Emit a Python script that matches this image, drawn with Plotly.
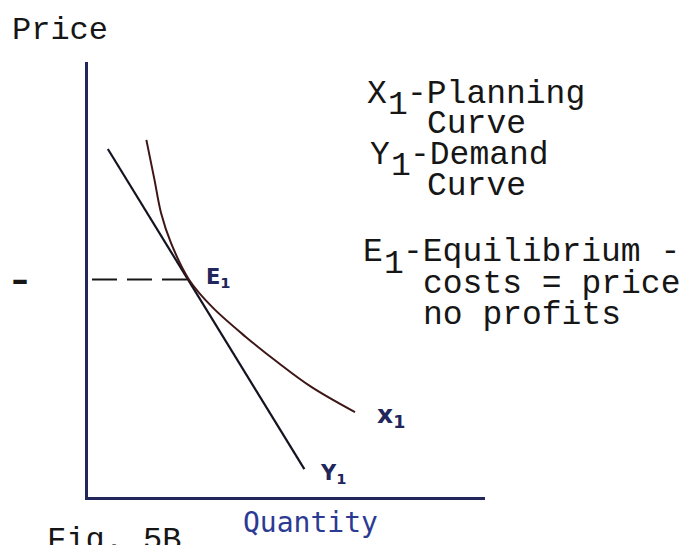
import plotly.graph_objects as go

# ---- data (quantity / price units) ----
demand_q = [0.5, 5.45]
demand_p = [8.0, 0.64]

planning_q = [1.47, 1.675, 1.84, 2.09, 2.55, 3.125, 3.975, 4.8, 5.625, 6.725]
planning_p = [8.21, 7.29, 6.53, 5.84, 4.99, 4.37, 3.68, 3.08, 2.53, 1.95]

eq_q = 2.55
eq_p = 5.0
guide_start_q = 0.1

W, H = 686, 545
ML, MR, MT, MB = 88, 201, 62, 48

def px(x, y):
    """pixel position -> paper coords (layout placement only)"""
    return (x - ML) / (W - ML - MR), (H - MB - y) / (H - MT - MB)

TYPE = "Liberation Mono"
HAND = "DejaVu Sans"
INK = "#161616"
NAVY = "#22265a"

fig = go.Figure()

fig.add_trace(go.Scatter(x=demand_q, y=demand_p, mode="lines",
                         line=dict(color="#141420", width=2.2), hoverinfo="skip"))
fig.add_trace(go.Scatter(x=planning_q, y=planning_p, mode="lines",
                         line=dict(color="#3e1616", width=2.0, shape="spline", smoothing=1.0),
                         hoverinfo="skip"))
fig.add_trace(go.Scatter(x=[guide_start_q, eq_q], y=[eq_p, eq_p], mode="lines",
                         line=dict(color="#161616", width=2.2, dash="25px,10px"),
                         hoverinfo="skip"))

annos = []

def text(x, y, s, size=33, family=TYPE, color=INK, xanchor="left", weight="normal"):
    px_, py_ = px(x, y)
    annos.append(dict(x=px_, y=py_, xref="paper", yref="paper", text=s, showarrow=False,
                      xanchor=xanchor, yanchor="middle", borderpad=0,
                      font=dict(family=family, size=size, color=color, weight=weight)))

NB = "\u00a0"
text(11, 30, "Price", size=32)
# legend block (typewritten)
text(366, 94, "X")
text(387, 105, "1")
text(406, 94, "-Planning")
text(426, 124, "Curve")
text(369, 155, "Y")
text(390, 166, "1")
text(409, 155, "-Demand")
text(426, 186, "Curve")
text(362, 253, "E")
text(383, 264, "1")
text(402, 253, "-Equilibrium -")
text(422, 284, "costs = price")
text(422, 315, "no profits")
text(46, 540, "Fig. 5B", size=32)

# hand-lettered labels
text(310, 522, "Quantity", size=28, family="DejaVu Sans Mono", color="#2b3a92", xanchor="center")
text(218, 278, "E<sub>1</sub>", size=21, family=HAND, color=NAVY, xanchor="center", weight="bold")
text(391, 416, "x<sub>1</sub>", size=25, family=HAND, color=NAVY, xanchor="center", weight="bold")
text(333, 474, "Y<sub>1</sub>", size=21, family=HAND, color=NAVY, xanchor="center", weight="bold")

fig.update_layout(
    width=W, height=H,
    margin=dict(l=ML, r=MR, t=MT, b=MB, autoexpand=False),
    paper_bgcolor="white", plot_bgcolor="white",
    showlegend=False,
    annotations=annos,
    xaxis=dict(range=[0, 10], showgrid=False, zeroline=False, showticklabels=False,
               showline=True, linecolor=NAVY, linewidth=2.5, ticks="", automargin=False),
    yaxis=dict(range=[0, 10], showgrid=False, zeroline=False,
               tickvals=[eq_p], ticktext=["<b>\u2013</b>"], ticks="",
               ticklabelstandoff=50, automargin=False,
               tickfont=dict(family="DejaVu Sans", size=34, color=INK),
               showline=True, linecolor=NAVY, linewidth=2.5),
)

fig.write_html("out.html", config={"displayModeBar": False},
               post_script="document.body.style.margin='0px';")
